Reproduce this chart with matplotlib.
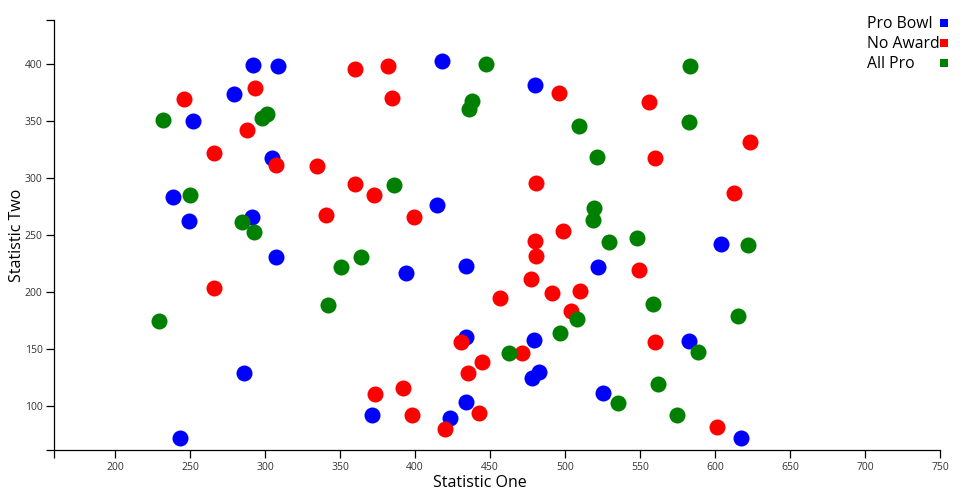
import matplotlib
matplotlib.use('Agg')
import matplotlib.pyplot as plt

plt.rcParams['font.family'] = ['Open Sans', 'DejaVu Sans']

# Pro Bowl
pro_x = [292, 308.4, 279, 252.2, 304.4, 238.9, 291, 249.3, 307.1, 286, 243.6,
         417.8, 480, 414.4, 393.8, 433.8, 433.8, 479.3, 482.4, 478.2, 434.2,
         371.1, 423.6, 604.2, 521.8, 582.9, 525.1, 617.3]
pro_y = [399.4, 398.5, 374, 350.3, 318, 283.9, 266.3, 262.5, 231.2, 129.2, 71.9,
         402.9, 381.8, 276.6, 216.7, 222.8, 161.1, 158.2, 130.1, 124.8, 103.8,
         92.6, 89.5, 242.4, 222.1, 157.5, 111.9, 71.9]

# No Award
none_x = [359.8, 293, 246, 288, 265.8, 307.6, 334.7, 360.3, 340.7, 266,
          382, 384.9, 372.7, 399.6, 480.4, 498.4, 480, 480.4, 477.6, 491.1,
          456.9, 430.4, 471.1, 444.9, 435.1, 392.2, 373.1, 398.2, 442.4, 420,
          496.3, 555.8, 623.3, 560.2, 612.4, 549.3, 510.2, 504.2, 559.8, 601.5]
none_y = [395.6, 379.5, 370, 342.4, 322.5, 311.7, 311, 294.7, 267.8, 204,
          398.8, 370.2, 285.6, 266.3, 295.9, 253.8, 245.3, 232.1, 211.4, 199.7,
          195, 156.1, 146.5, 138.9, 129.5, 116.3, 110.8, 92.6, 93.8, 79.8,
          374.7, 366.9, 331.6, 317.8, 287.1, 219.9, 201.4, 183.9, 156.1, 81.8]

# All Pro
all_x = [301.6, 297.8, 232.2, 250, 284.4, 292.4, 363.8, 350.7, 341.8, 229.6,
         447.3, 438, 435.8, 385.8, 496.7, 462.9, 583.3, 509.6, 582.4, 521.3,
         519.6, 518.7, 529.1, 548.2, 621.8, 558.4, 508, 615.1, 588.9, 562.2,
         535.3, 574.9]
all_y = [356.4, 352.6, 351, 285, 262, 252.6, 231.2, 222.2, 189.1, 175.1,
         400, 368, 360.8, 293.9, 164, 146.5, 398.8, 346.1, 349.1, 318.4,
         274.2, 263.4, 244.4, 247.9, 241.5, 189.5, 176.3, 178.9, 147.9, 119.8,
         102.9, 92.3]

x_ticks = [200, 250, 300, 350, 400, 450, 500, 550, 600, 650, 700, 750]
y_ticks = [100, 150, 200, 250, 300, 350, 400]
x_min, x_max = 159.5, 750
y_min, y_max = 61.4, 438.6

labels = ['Pro Bowl', 'No Award', 'All Pro']
colors = ['blue', 'red', 'green']

W, H = 960, 500
fig = plt.figure(figsize=(9.6, 5), dpi=100)
ax = fig.add_axes([54.3/W, 49.7/H, 885.7/W, 430/H])

ax.scatter(pro_x, pro_y, s=133, color='blue', linewidths=0, zorder=2)
ax.scatter(none_x, none_y, s=133, color='red', linewidths=0, zorder=3)
ax.scatter(all_x, all_y, s=133, color='green', linewidths=0, zorder=4)

ax.set_xlim(x_min, x_max)
ax.set_ylim(y_min, y_max)

# d3-style outer ticks at the ends of the domain
ax.set_xticks([x_min] + x_ticks)
ax.set_xticklabels([''] + [str(v) for v in x_ticks])
ax.set_yticks([y_min] + y_ticks + [y_max])
ax.set_yticklabels([''] + [str(v) for v in y_ticks] + [''])
ax.tick_params(length=6, width=0.9, labelsize=7.5, labelcolor='#333333', pad=2.5)

for side in ['top', 'right']:
    ax.spines[side].set_visible(False)
for side in ['left', 'bottom']:
    ax.spines[side].set_linewidth(0.9)

ax.set_xlabel('Statistic One', fontsize=11.5, va='center')
ax.xaxis.set_label_coords((480 - 54.3) / 885.7, (450.3 - 483) / 430)
ax.set_ylabel('Statistic Two', fontsize=11.5, va='center')
ax.yaxis.set_label_coords((17 - 54.3) / 885.7, (450.3 - 235) / 430)

# legend: left aligned text, squares in a fixed column on the right
for i, (lab, col) in enumerate(zip(labels, colors)):
    base = 28.3 + i * 19.7
    fig.text(867 / W, 1 - base / H, lab, fontsize=11.3, ha='left', va='baseline')
    fig.add_artist(plt.Rectangle((940 / W, 1 - (base - 1) / H), 8 / W, 8 / H,
                                 transform=fig.transFigure, color=col, lw=0))

fig.savefig('out.png', dpi=100)
